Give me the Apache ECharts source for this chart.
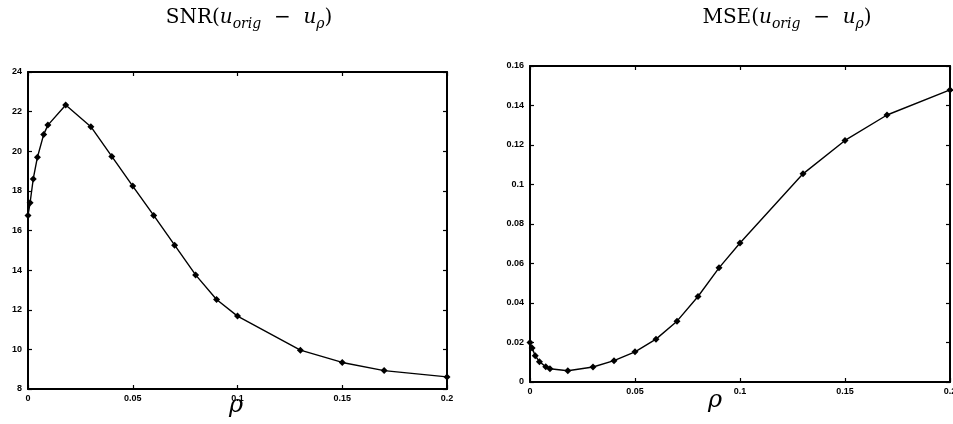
<!DOCTYPE html>
<html>
<head>
<meta charset="utf-8">
<script src="https://cdn.jsdelivr.net/npm/echarts@6/dist/echarts.min.js"></script>
<style>
  html, body { margin: 0; padding: 0; background: #fff; }
  #chart { width: 953px; height: 424px; }
</style>
</head>
<body>
<div id="chart"></div>
<script>
// rho values shared by both panels
const rho = [0, 0.001, 0.0025, 0.0045, 0.0075, 0.0095, 0.018, 0.03, 0.04, 0.05, 0.06, 0.07, 0.08, 0.09, 0.1, 0.13, 0.15, 0.17, 0.2]
const snr = [16.76, 17.4, 18.6, 19.7, 20.85, 21.32, 22.33, 21.24, 19.74, 18.24, 16.76, 15.26, 13.76, 12.52, 11.68, 9.96, 9.34, 8.93, 8.61]
const mse = [0.0200, 0.0172, 0.0133, 0.0103, 0.0077, 0.0067, 0.0057, 0.0076, 0.0108, 0.0153, 0.0217, 0.0308, 0.0433, 0.0578, 0.0704, 0.1054, 0.1223, 0.1352, 0.1479]

var myChart = echarts.init(document.getElementById('chart'))

const labelFont = { color: '#000', fontSize: 9, fontWeight: 'bold', fontFamily: 'Liberation Sans' }
const frameLine = { show: true, onZero: false, lineStyle: { color: '#000', width: 2 } }
const tick = { show: true, inside: true, length: 4, lineStyle: { color: '#000', width: 1.2 } }

const serif = 'DejaVu Serif'
const titleRich = {
  n: { fontFamily: serif, fontWeight: 'normal', fontSize: 20, color: '#000', lineHeight: 26 },
  i: { fontFamily: serif, fontWeight: 'normal', fontStyle: 'italic', fontSize: 20, color: '#000', lineHeight: 26 },
  s: { fontFamily: serif, fontWeight: 'normal', fontStyle: 'italic', fontSize: 14, color: '#000', lineHeight: 16, verticalAlign: 'bottom' }
}

function xAx(grid, pos, showLabel) {
  return {
    type: 'value', gridIndex: grid, position: pos, min: 0, max: 0.2, interval: 0.05,
    axisLine: frameLine, axisTick: tick, splitLine: { show: false },
    axisLabel: showLabel ? { ...labelFont, margin: 5 } : { show: false }
  }
}
function yAx(grid, pos, min, max, interval, showLabel) {
  return {
    type: 'value', gridIndex: grid, position: pos, min: min, max: max, interval: interval,
    axisLine: frameLine, axisTick: tick, splitLine: { show: false },
    axisLabel: showLabel ? { ...labelFont, margin: 6 } : { show: false }
  }
}

const lineSeries = (xi, yi, values) => ({
  type: 'line', xAxisIndex: xi, yAxisIndex: yi,
  data: rho.map((r, k) => [r, values[k]]),
  symbol: 'diamond', symbolSize: 7, showSymbol: true,
  lineStyle: { color: '#000', width: 1.4 }, itemStyle: { color: '#000' },
  animation: false
})

myChart.setOption({
  animation: false,
  title: [
    { text: '{n|SNR(}{i|u}{s|orig}{n|  −  }{i|u}{s|ρ}{n|)}', left: 244, top: 0, textAlign: 'center', textStyle: { fontWeight: 'normal', rich: titleRich } },
    { text: '{n|MSE(}{i|u}{s|orig}{n|  −  }{i|u}{s|ρ}{n|)}', left: 782, top: 0, textAlign: 'center', textStyle: { fontWeight: 'normal', rich: titleRich } }
  ],
  grid: [
    { left: 28, top: 72, width: 419, height: 317, outerBoundsMode: 'none' },
    { left: 530, top: 66, width: 420, height: 316, outerBoundsMode: 'none' }
  ],
  xAxis: [xAx(0, 'bottom', true), xAx(0, 'top', false), xAx(1, 'bottom', true), xAx(1, 'top', false)],
  yAxis: [yAx(0, 'left', 8, 24, 2, true), yAx(0, 'right', 8, 24, 2, false),
          yAx(1, 'left', 0, 0.16, 0.02, true), yAx(1, 'right', 0, 0.16, 0.02, false)],
  graphic: [
    { type: 'text', left: 229, top: 394, style: { text: 'ρ', font: 'italic 24px "DejaVu Serif"', fill: '#000' } },
    { type: 'text', left: 708, top: 389, style: { text: 'ρ', font: 'italic 24px "DejaVu Serif"', fill: '#000' } }
  ],
  series: [lineSeries(0, 0, snr), lineSeries(2, 2, mse)]
})
</script>
</body>
</html>
